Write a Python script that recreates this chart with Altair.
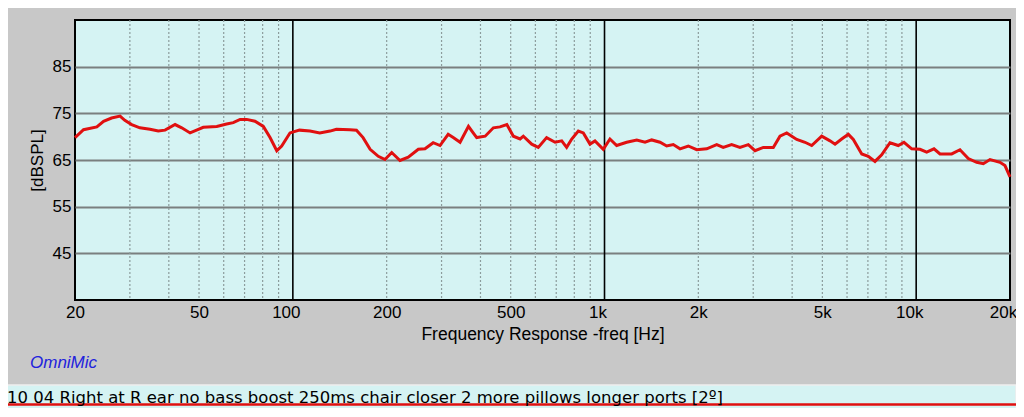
import altair as alt
import pandas as pd

# ---- data ----
freq = [20, 21.3, 23.5, 24.7, 26.2, 27.9, 28.9, 30.4, 32.3, 34.8, 37.0, 38.9, 41.9, 44.0,
        46.8, 49.1, 51.6, 57.0, 61.3, 64.4, 67.7, 71.1, 75.6, 80.4, 84.5, 88.8, 92.1, 97.9,
        105, 113.5, 122, 131.6, 138, 152.5, 160, 168, 177, 188, 197.5, 207.6, 220.7, 234.6,
        252.7, 265.5, 282, 296.6, 315, 327, 344, 366, 379, 389, 414, 440, 462, 486, 510, 536,
        549, 584, 613, 652, 694, 729, 756, 785, 824, 855, 898, 932, 991, 1041, 1094, 1178,
        1269, 1349, 1417, 1507, 1583, 1662, 1747, 1857, 1976, 2128, 2291, 2404, 2558, 2720,
        2893, 3040, 3232, 3480, 3656, 3843, 4137, 4398, 4622, 4976, 5291, 5490, 5768, 6058,
        6285, 6689, 7021, 7377, 7750, 8241, 8761, 9139, 9673, 10286, 10808, 11406, 11924,
        13000, 13820, 14696, 15636, 16420, 17254, 18574, 19272, 20000]
spl = [69.8, 71.5, 72.1, 73.3, 74.0, 74.4, 73.5, 72.6, 71.9, 71.6, 71.2, 71.4, 72.6, 71.9,
       70.8, 71.4, 72.0, 72.2, 72.7, 73.0, 73.7, 73.7, 73.3, 72.2, 69.8, 67.0, 68.0, 70.8,
       71.4, 71.2, 70.8, 71.2, 71.6, 71.5, 71.4, 69.8, 67.3, 65.8, 65.1, 66.6, 64.9, 65.6,
       67.3, 67.4, 68.7, 68.1, 70.5, 69.8, 68.8, 72.2, 70.8, 69.8, 70.1, 71.9, 72.1, 72.6,
       70.1, 69.5, 70.1, 68.4, 67.7, 69.8, 68.8, 69.1, 67.7, 69.5, 71.2, 70.8, 68.4, 69.1,
       67.3, 69.5, 68.1, 68.8, 69.3, 68.8, 69.3, 68.8, 68.0, 68.3, 67.4, 68.0, 67.2, 67.4,
       68.3, 67.7, 68.3, 67.7, 68.3, 67.0, 67.7, 67.7, 70.1, 70.8, 69.4, 68.8, 68.1, 70.1,
       69.1, 68.4, 69.5, 70.5, 69.4, 66.3, 65.8, 64.7, 66.1, 68.7, 68.1, 68.8, 67.4, 67.3,
       66.7, 67.4, 66.3, 66.3, 67.2, 65.3, 64.5, 64.2, 65.1, 64.5, 63.8, 61.4]

y_ticks = [45, 55, 65, 75, 85]
x_ticks = [20, 50, 100, 200, 500, 1000, 2000, 5000, 10000, 20000]
x_tick_labels = ["20", "50", "100", "200", "500", "1k", "2k", "5k", "10k", "20k"]
decade_lines = [100, 1000, 10000]
minor_lines = [30, 40, 50, 60, 70, 80, 90,
               200, 300, 400, 500, 600, 700, 800, 900,
               2000, 3000, 4000, 5000, 6000, 7000, 8000, 9000]
shifted_labels = [100, 1000, 10000, 20000]
brand = ["OmniMic"]
legend_text = ["10 04 Right at R ear  no bass boost 250ms chair closer 2 more pillows longer ports [2º]"]

FONT = "Liberation Sans"
GREY_BG = "#c8c8c8"
PLOT_BG = "#d5f3f3"
RED = "#e01010"

curve = pd.DataFrame({"f": freq, "db": spl})
df_minor = pd.DataFrame({"f": minor_lines})
df_major = pd.DataFrame({"f": decade_lines})

label_expr = ""
for v, l in zip(x_ticks, x_tick_labels):
    label_expr += f"datum.value == {v} ? '{l}' : "
label_expr += "''"
shift_test = " || ".join(f"datum.value == {v}" for v in shifted_labels)

xscale = alt.Scale(type="log", domain=[20, 20000], nice=False)
yscale = alt.Scale(domain=[35, 95], nice=False, zero=False)

x_axis = alt.Axis(values=x_ticks, labelExpr=label_expr, grid=False, domain=False,
                  ticks=False, labelFont=FONT, labelFontSize=17, labelColor="black",
                  labelPadding=4, labelFlush=False, labelOverlap=False,
                  labelOffset={"condition": {"test": shift_test, "value": -7}, "value": 0},
                  title="Frequency Response -freq [Hz]", titleFont=FONT, titleFontSize=17.5,
                  titleFontWeight="normal", titleColor="black", titlePadding=5)
y_axis = alt.Axis(values=y_ticks, grid=True, gridColor="#7a7f7f", gridWidth=1.8,
                  domain=False, ticks=False, labelFont=FONT, labelFontSize=17,
                  labelColor="black", labelPadding=4,
                  title="[dBSPL]", titleFont=FONT, titleFontSize=17,
                  titleFontWeight="normal", titleColor="black", titlePadding=6)

x_enc = alt.X("f:Q", scale=xscale, axis=x_axis)

minor = alt.Chart(df_minor).mark_rule(color="#8c9c9c", strokeDash=[2, 2], strokeWidth=1.2).encode(x=x_enc)
major = alt.Chart(df_major).mark_rule(color="black", strokeWidth=1.6).encode(x=x_enc)

line = alt.Chart(curve).mark_line(color=RED, strokeWidth=3, interpolate="linear").encode(
    x=x_enc,
    y=alt.Y("db:Q", scale=yscale, axis=y_axis),
)

brand_txt = alt.Chart(pd.DataFrame({"t": brand})).mark_text(
    font=FONT, fontSize=17, fontStyle="italic", color="#2222dd", align="left", baseline="middle"
).encode(x=alt.value(-45), y=alt.value(343), text="t:N")

strip = alt.Chart(pd.DataFrame({"t": legend_text})).mark_rect(
    fill=PLOT_BG, stroke="#eeeeee", strokeWidth=1.5
).encode(x=alt.value(-73), x2=alt.value(941), y=alt.value(365), y2=alt.value(392))

legend_line = alt.Chart(pd.DataFrame({"t": legend_text})).mark_rule(color=RED, strokeWidth=2.5).encode(
    x=alt.value(-72), x2=alt.value(941), y=alt.value(384.5))

legend_txt = alt.Chart(pd.DataFrame({"t": legend_text})).mark_text(
    font="DejaVu Sans", fontSize=16.5, color="black", align="left", baseline="alphabetic"
).encode(x=alt.value(-68), y=alt.value(382.5), text="t:N")

chart = alt.layer(minor, major, line, brand_txt, strip, legend_line, legend_txt).properties(
    width=935, height=280,
    autosize=alt.AutoSizeParams(type="none"),
    padding={"left": 67, "top": 12, "right": 6, "bottom": 108},
    background=GREY_BG,
).configure_view(fill=PLOT_BG, stroke="black", strokeWidth=2)

chart.save("out.html", embed_options={"renderer": "svg", "actions": False})
